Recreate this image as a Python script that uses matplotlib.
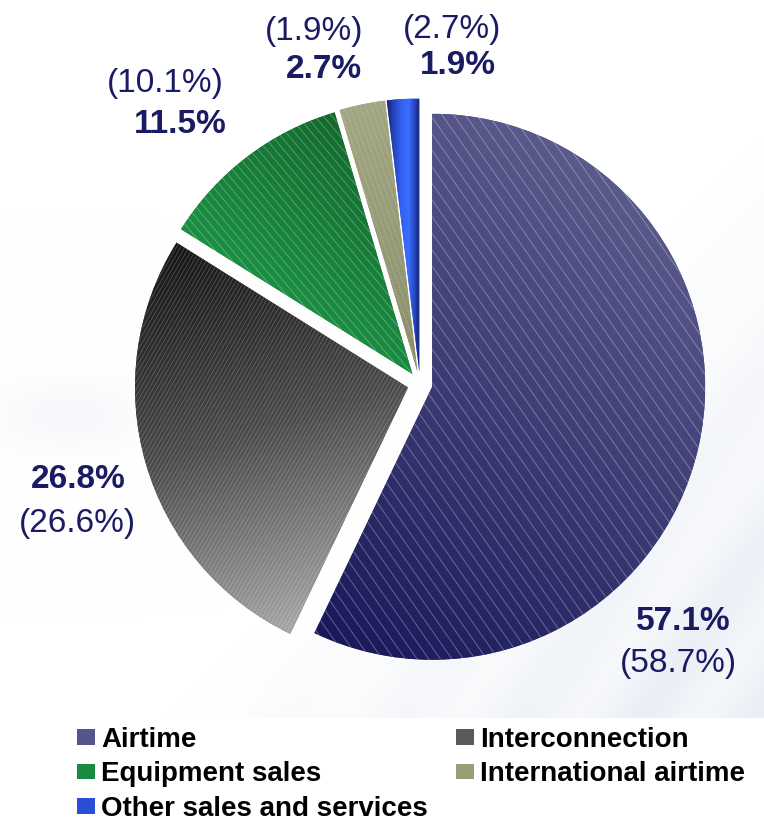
import numpy as np
import matplotlib
matplotlib.use("Agg")
import matplotlib.pyplot as plt
from matplotlib.collections import LineCollection
from matplotlib.patches import Patch
from matplotlib.colors import to_rgb

# ---- data -------------------------------------------------------------
categories = ["Airtime", "Interconnection", "Equipment sales",
              "International airtime", "Other sales and services"]
share_current = [57.1, 26.8, 11.5, 2.7, 1.9]   # bold labels
share_prior = [58.7, 26.6, 10.1, 1.9, 2.7]     # bracketed labels

# ---- style ------------------------------------------------------------
W, H = 764, 826
NAVY = "#1b1b63"
plt.rcParams["font.family"] = ["Liberation Sans", "DejaVu Sans"]

base_colors = ["#3f3f78", "#555555", "#187c38", "#969a74", "#2a50d8"]
legend_colors = ["#55558c", "#5a5a5a", "#1a8a40", "#9a9e78", "#2a4fd6"]

# gradient stops (position, colour) and direction for each slice
gradients = [
    ([(0.0, "#1a185a"), (0.5, "#3b3b73"), (1.0, "#5a5a8c")], (0.55, 0.85)),
    ([(0.0, "#151515"), (0.5, "#4a4a4a"), (1.0, "#a6a6a6")], (0.3, -0.95)),
    ([(0.0, "#1c9044"), (1.0, "#136a2e")], (0.6, 0.8)),
    ([(0.0, "#a2a682"), (1.0, "#8a8e6a")], (0.3, -0.95)),
    ([(0.0, "#16206a"), (0.15, "#2238a8"), (0.45, "#3262ee"), (0.68, "#3b6dff"),
      (0.86, "#2848c2"), (1.0, "#18267a")], (1.0, 0.0)),
]
# hatch: angle (deg), spacing (px), colour, alpha, line width, style
hatches = [
    (-55, 9.5, "white", 0.30, 0.7, "-"),
    (60, 3.6, "white", 0.22, 0.6, "-"),
    (-50, 6.5, "white", 0.30, 0.6, "-"),
    (-70, 5.0, "#e4e8cc", 0.55, 0.6, (0, (1, 1.5))),
    None,
]

# label layout: (x, baseline y) in pixels from top-left; bold / bracketed
bold_pos = [(683, 630), (78, 488), (180, 133), (324, 78), (458, 74)]
paren_pos = [(678, 672), (77, 532), (165, 92), (314, 40), (452, 38)]

pie_center = (420, H - 384)
pie_radius = 273
explode_px = 12.5

fig = plt.figure(figsize=(W / 100, H / 100), dpi=100)

# faint background wash
bg = fig.add_axes([0, 0, 1, 1], zorder=0)
yy, xx = np.mgrid[0:H, 0:W]
u = (xx / W) * 0.8 + (yy / H) * 0.9
wash = np.clip((u - 0.95) / 0.5, 0, 1) * (yy < 718)
wash *= 0.55 + 0.45 * np.sin(xx / 38.0 + yy / 55.0) ** 2
left = np.exp(-(((xx - 70) / 80.0) ** 2 + ((yy - 415) / 35.0) ** 2))
wash = np.clip(wash * 0.8 + left * 0.35, 0, 1)
tint = np.array(to_rgb("#e6ebf3"))
bg_img = 1 - wash[..., None] * (1 - tint)
bg.imshow(bg_img, extent=(0, W, H, 0), aspect="auto", interpolation="bilinear")
bg.set_xlim(0, W)
bg.set_ylim(H, 0)
bg.axis("off")

ax = fig.add_axes([0, 0, 1, 1], zorder=1)
ax.patch.set_alpha(0)

wedges, _ = ax.pie(share_current, startangle=90, counterclock=False,
                   radius=pie_radius, center=pie_center,
                   explode=[explode_px] * len(share_current),
                   colors=base_colors, wedgeprops=dict(linewidth=0))


def fill_gradient(w, stops, direction):
    cx, cy = w.center
    r = w.r
    n = 300
    xs = np.linspace(cx - r, cx + r, n)
    ys = np.linspace(cy - r, cy + r, n)
    X, Y = np.meshgrid(xs, ys)
    d = np.asarray(direction, float)
    d /= np.hypot(*d)
    verts = w.get_path().vertices
    proj_v = verts @ d
    t = (X * d[0] + Y * d[1] - proj_v.min()) / (proj_v.max() - proj_v.min())
    t = np.clip(t, 0, 1)
    pos = [s[0] for s in stops]
    cols = np.array([to_rgb(s[1]) for s in stops])
    rgb = np.stack([np.interp(t, pos, cols[:, k]) for k in range(3)], axis=-1)
    im = ax.imshow(rgb, extent=(cx - r, cx + r, cy - r, cy + r), origin="lower",
                   interpolation="bilinear", aspect="auto", zorder=2)
    im.set_clip_path(w)


def add_hatch(w, angle, spacing, color, alpha, lw, ls):
    cx, cy = w.center
    r = w.r
    a = np.deg2rad(angle)
    d = np.array([np.cos(a), np.sin(a)])
    nv = np.array([-np.sin(a), np.cos(a)])
    segs = []
    for k in np.arange(-r, r + spacing, spacing):
        p = np.array([cx, cy]) + k * nv
        segs.append([p - r * d, p + r * d])
    lc = LineCollection(segs, colors=color, alpha=alpha, linewidths=lw,
                        linestyles=ls, zorder=3)
    ax.add_collection(lc)
    lc.set_clip_path(w)


for w, (stops, direction), h in zip(wedges, gradients, hatches):
    fill_gradient(w, stops, direction)
    if h is not None:
        add_hatch(w, *h)

# value labels
for v, p, bp, pp in zip(share_current, share_prior, bold_pos, paren_pos):
    ax.text(bp[0], H - bp[1], f"{v:.1f}%", ha="center", va="baseline",
            fontsize=24, fontweight="bold", color=NAVY, zorder=5)
    ax.text(pp[0], H - pp[1], f"({p:.1f}%)", ha="center", va="baseline",
            fontsize=24, color=NAVY, zorder=5)

# legend, filled column by column
order = [0, 2, 4, 1, 3]
handles = [Patch(facecolor=legend_colors[i], edgecolor="none") for i in order]
labels = [categories[i] for i in order]
ax.legend(handles, labels, ncol=2, loc="upper left",
          bbox_to_anchor=(77 / W, 1 - 727 / H), bbox_transform=fig.transFigure,
          frameon=False, borderpad=0, borderaxespad=0,
          handlelength=0.65, handleheight=0.5, handletextpad=0.22,
          labelspacing=0.3, columnspacing=1.0,
          prop=dict(family=["Liberation Sans", "DejaVu Sans"], weight="bold", size=20))

ax.set_xlim(0, W)
ax.set_ylim(0, H)
ax.set_aspect("auto")
ax.axis("off")

fig.savefig("out.png", dpi=100)
